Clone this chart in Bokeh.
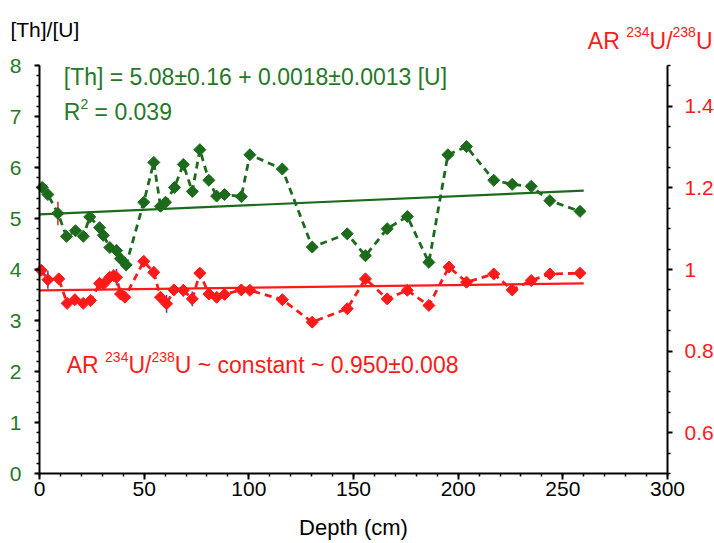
import numpy as np
from bokeh.plotting import figure
from bokeh.models import (Range1d, LinearAxis, SingleIntervalTicker, FixedTicker,
                          CustomJSTickFormatter, Label)
from bokeh.embed import file_html
from bokeh.resources import INLINE

# ---------------- data ----------------
depth_th = [1.3, 4.0, 8.8, 12.9, 17.2, 20.9, 24.0, 28.7, 30.5, 33.6, 36.8, 38.7, 41.4,
            49.8, 54.6, 57.8, 60.2, 64.5, 68.7, 73.0, 76.6, 80.9, 84.6, 88.4, 96.4,
            100.5, 116.0, 130.3, 147.0, 155.7, 166.1, 175.7, 186.0, 195.1, 204.0,
            217.0, 225.8, 234.9, 243.8, 258.2]
th_u = [5.61, 5.47, 5.10, 4.65, 4.76, 4.65, 5.03, 4.82, 4.67, 4.43, 4.37, 4.21, 4.09,
        5.32, 6.10, 5.24, 5.32, 5.61, 6.06, 5.53, 6.35, 5.75, 5.44, 5.47, 5.43,
        6.25, 5.97, 4.44, 4.70, 4.27, 4.80, 5.04, 4.14, 6.25, 6.41,
        5.75, 5.67, 5.63, 5.35, 5.14]
th_u_err = [0.0, 0.0, 0.23, 0.0, 0.0, 0.0, 0.0, 0.0, 0.0, 0.0, 0.12, 0.0, 0.0,
            0.0, 0.0, 0.0, 0.0, 0.0, 0.0, 0.0, 0.0, 0.0, 0.0, 0.0, 0.10,
            0.0, 0.0, 0.0, 0.0, 0.0, 0.0, 0.0, 0.0, 0.06, 0.05,
            0.0, 0.0, 0.0, 0.0, 0.0]

depth_ar = [0.8, 4.0, 9.2, 13.2, 16.9, 20.9, 24.4, 28.7, 30.7, 33.6, 35.5, 36.8, 38.7,
            40.8, 49.8, 54.6, 57.8, 60.7, 64.2, 68.7, 73.0, 76.6, 80.9, 84.6, 88.4,
            96.4, 100.5, 116.0, 130.3, 147.0, 155.7, 166.1, 175.7, 186.0, 195.6,
            204.0, 217.0, 225.8, 234.9, 243.8, 258.2]
ar_u = [0.998, 0.975, 0.977, 0.917, 0.926, 0.917, 0.924, 0.966, 0.965, 0.981, 0.985,
        0.981, 0.940, 0.932, 1.020, 0.993, 0.932, 0.916, 0.950, 0.949, 0.928, 0.991,
        0.940, 0.932, 0.939, 0.950, 0.949, 0.926, 0.871, 0.904, 0.977, 0.928, 0.949,
        0.912, 1.006, 0.969, 0.989, 0.950, 0.973, 0.989, 0.991]
ar_u_err = [0.0, 0.022, 0.0, 0.0, 0.0, 0.0, 0.0, 0.0, 0.0, 0.0, 0.0,
            0.02, 0.0, 0.0, 0.0, 0.014, 0.0, 0.022, 0.0, 0.015, 0.018, 0.012,
            0.0, 0.0, 0.0, 0.0, 0.0, 0.0, 0.008, 0.0, 0.0, 0.0, 0.0,
            0.0, 0.0, 0.005, 0.0, 0.0, 0.008, 0.0, 0.0]

fit_depth = [0, 260]
th_fit_intercept, th_fit_slope = 5.08, 0.0018
ar_fit_intercept, ar_fit_slope = 0.949, 0.000065

x_bounds = (0, 300)
th_bounds = (0, 8)
ar_bounds = (0.5, 1.5)
x_ticks_interval = 50
ar_ticks = [0.6, 0.8, 1.0, 1.2, 1.4]
ar_minor_ticks = [0.5, 0.55, 0.65, 0.7, 0.75, 0.85, 0.9, 0.95, 1.05, 1.1, 1.15,
                  1.25, 1.3, 1.35, 1.45, 1.5]

# ---------------- style ----------------
GREEN = "#1c6b1c"
GREEN_TXT = "#267826"
RED = "#ff1a1a"
BLUE = "#3a3aff"
FONT = "Liberation Sans"
FS = 21      # tick labels
FA = 23      # annotations
SUP = 14

W, H = 714, 543
# pixel placement of the axes box inside the canvas
L, R, T, B = 39, 667, 65, 473
xpx = (R - L) / (x_bounds[1] - x_bounds[0])
ypx = (B - T) / (th_bounds[1] - th_bounds[0])
apx = (B - T) / (ar_bounds[1] - ar_bounds[0])

p = figure(width=W, height=H,
           x_range=Range1d(x_bounds[0] - L / xpx, x_bounds[1] + (W - R) / xpx),
           y_range=Range1d(th_bounds[0] - (H - B) / ypx, th_bounds[1] + T / ypx),
           output_backend="svg", toolbar_location=None,
           min_border_left=0, min_border_right=0, min_border_top=0, min_border_bottom=0)
p.title.visible = False
p.extra_y_ranges = {"ar": Range1d(ar_bounds[0] - (H - B) / apx, ar_bounds[1] + T / apx)}
p.outline_line_color = None
p.xgrid.visible = False
p.ygrid.visible = False
p.background_fill_color = "white"

def style_axis(ax, label_color):
    ax.axis_line_color = "black"
    ax.axis_line_width = 2
    ax.major_tick_line_color = "black"
    ax.major_tick_line_width = 2
    ax.minor_tick_line_color = "black"
    ax.minor_tick_line_width = 1.5
    ax.major_tick_in = 0
    ax.major_tick_out = 6
    ax.minor_tick_in = 0
    ax.minor_tick_out = 3
    ax.major_label_text_font = FONT
    ax.major_label_text_font_size = f"{FS}px"
    ax.major_label_text_color = label_color

# x axis
xa = p.xaxis[0]
xa.ticker = SingleIntervalTicker(interval=x_ticks_interval, num_minor_ticks=5)
style_axis(xa, "black")
xa.fixed_location = th_bounds[0]
xa.bounds = x_bounds
xa.major_label_standoff = 2
xa.axis_label = "Depth (cm)"
xa.axis_label_text_font = FONT
xa.axis_label_text_font_size = "22px"
xa.axis_label_text_font_style = "normal"
xa.axis_label_text_color = "black"
xa.axis_label_standoff = 16

# left axis
ya = p.yaxis[0]
ya.ticker = SingleIntervalTicker(interval=1, num_minor_ticks=5)
style_axis(ya, GREEN_TXT)
ya.fixed_location = x_bounds[0]
ya.bounds = th_bounds
ya.major_tick_out = 5
ya.major_label_standoff = 13

# right axis
ra = LinearAxis(y_range_name="ar",
                ticker=FixedTicker(ticks=ar_ticks, minor_ticks=ar_minor_ticks),
                formatter=CustomJSTickFormatter(code="return tick.toString()"))
style_axis(ra, RED)
ra.fixed_location = x_bounds[1]
ra.bounds = ar_bounds
ra.major_tick_out = 5
ra.major_label_standoff = 12
p.add_layout(ra, "right")

# ---------------- fit lines ----------------
fx = np.array(fit_depth, dtype=float)
p.line(fx, th_fit_intercept + th_fit_slope * fx, line_color=GREEN, line_width=2.2)
p.line(fx, ar_fit_intercept + ar_fit_slope * fx, line_color=RED, line_width=2.2,
       y_range_name="ar")

# ---------------- Th/U series ----------------
dth = np.array(depth_th); vth = np.array(th_u); eth = np.array(th_u_err)
p.line(dth, vth, line_color=GREEN, line_width=2.8, line_dash="7 5")
m = eth > 0
p.segment(dth[m], vth[m] - eth[m], dth[m], vth[m] + eth[m], line_color="#e0202a", line_width=1.5)
p.scatter(dth, vth, marker="square", angle=np.pi / 4, size=8.5,
          fill_color=GREEN, line_color=GREEN)

# ---------------- AR series ----------------
dar = np.array(depth_ar); var = np.array(ar_u); ear = np.array(ar_u_err)
p.line(dar, var, line_color=RED, line_width=2.8, line_dash="7 5", y_range_name="ar")
m2 = ear > 0
p.segment(dar[m2], var[m2] - ear[m2], dar[m2], var[m2] + ear[m2], line_color=BLUE,
          line_width=1.5, y_range_name="ar")
p.scatter(dar, var, marker="square", angle=np.pi / 4, size=8.5,
          fill_color=RED, line_color=RED, y_range_name="ar")

# ---------------- texts ----------------
WID = {' ': 278, 'A': 667, 'R': 722, 'U': 722, 'T': 611, 'h': 556, '[': 278, ']': 278,
       '/': 278, '=': 584, '+': 584, '\u00b1': 549, '~': 584, '.': 278, 'c': 500,
       'o': 556, 'n': 556, 's': 500, 't': 278, 'a': 556}

def tw(s, size):
    return sum(WID.get(ch, 556) for ch in s) * size / 1000.0

def rich(x, y, parts, color, align="left"):
    total = sum(tw(t, s) for t, s, r in parts)
    off = -total if align == "right" else 0.0
    for t, s, r in parts:
        lead = len(t) - len(t.lstrip(" "))
        off_here = off + tw(" " * lead, s)
        txt = t.strip(" ")
        if txt:
            p.add_layout(Label(x=x, y=y + r / ypx, x_offset=off_here, text=txt,
                               text_font=FONT, text_font_size=f"{s}px", text_color=color,
                               text_align="left", text_baseline="alphabetic"))
        off += tw(t, s)

rich(-13.9, 8.71, [("[Th]/[U]", 21, 0)], "black")
rich(321.5, 8.49, [("AR ", 23, 0), ("234", SUP, 8.5), ("U/", 23, 0), ("238", SUP, 8.5),
                   ("U", 23, 0)], RED, align="right")
rich(11.6, 7.78, [("[Th] = 5.08\u00b10.16 + 0.0018\u00b10.0013 [U]", FA, 0)], GREEN_TXT)
rich(11.6, 7.08, [("R", FA, 0), ("2", SUP, 8.5), (" = 0.039", FA, 0)], GREEN_TXT)
rich(13.0, 2.12, [("AR ", FA, 0), ("234", SUP, 8.5), ("U/", FA, 0), ("238", SUP, 8.5),
                  ("U ~ constant ~ 0.950\u00b10.008", FA, 0)], RED)

open("out.html", "w").write(file_html(p, INLINE))
